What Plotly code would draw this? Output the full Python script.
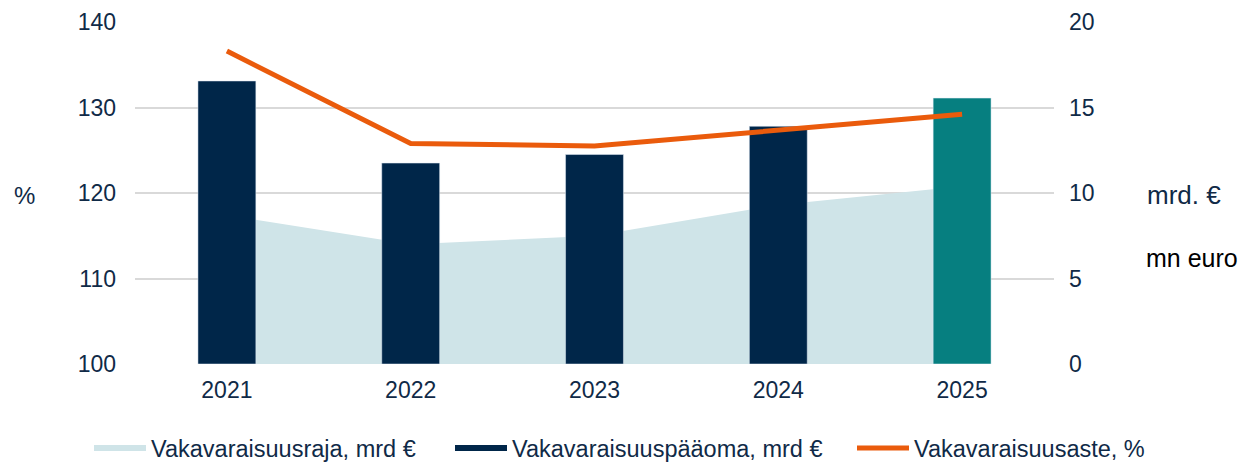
import plotly.graph_objects as go

years = ["2021", "2022", "2023", "2024", "2025"]
raja = [8.7, 7.0, 7.5, 9.3, 10.4]          # Vakavaraisuusraja, mrd €
paaoma = [16.55, 11.75, 12.25, 13.9, 15.55]  # Vakavaraisuuspääoma, mrd €
aste = [136.6, 125.8, 125.5, 127.4, 129.2]   # Vakavaraisuusaste, %

NAVY = "#002649"
TEAL = "#067F80"
LIGHT = "#CFE4E8"
ORANGE = "#EA5B0C"
TXT = "#102A47"
FONT = "Liberation Sans, Arial, sans-serif"

bar_colors = [NAVY] * (len(years) - 1) + [TEAL]

fig = go.Figure()

# area sits on the base subplot so the bars (overlay) are drawn above it
fig.add_trace(go.Scatter(
    x=years, y=raja, name="Vakavaraisuusraja, mrd €",
    mode="none", fill="tozeroy", fillcolor=LIGHT, yaxis="y", legend="legend",
))
fig.add_trace(go.Bar(
    x=years, y=paaoma, name="Vakavaraisuuspääoma, mrd €",
    marker=dict(color=bar_colors), width=0.315, yaxis="y2", showlegend=False,
))
# legend entry for the bars with a wide box like the original
fig.add_trace(go.Scatter(
    x=[None], y=[None], name="Vakavaraisuuspääoma, mrd €",
    mode="none", fill="toself", fillcolor=NAVY, yaxis="y2", legend="legend2",
))
fig.add_trace(go.Scatter(
    x=years, y=aste, name="Vakavaraisuusaste, %",
    mode="lines", line=dict(color=ORANGE, width=5), yaxis="y3", legend="legend3",
))

def leg(x):
    return dict(
        orientation="h", xref="container", yref="container",
        x=x, xanchor="left", y=0.03, yanchor="middle",
        font=dict(family=FONT, size=23.5, color=TXT),
        itemwidth=52, bgcolor="rgba(0,0,0,0)",
    )

fig.update_layout(
    width=1244, height=462,
    margin=dict(l=135, r=190, t=22, b=98, autoexpand=False),
    plot_bgcolor="white", paper_bgcolor="white",
    font=dict(family=FONT, size=23, color=TXT),
    showlegend=True,
    legend=leg(89 / 1244),
    legend2=leg(450 / 1244),
    legend3=leg(852 / 1244),
    xaxis=dict(
        type="category", showgrid=False, showline=False, ticks="",
        tickfont=dict(size=23, color=TXT), ticklabelstandoff=10,
    ),
    yaxis=dict(
        side="right", range=[0, 20], dtick=5, showgrid=True,
        gridcolor="#D9D9D9", gridwidth=1.5, zeroline=False,
        tickfont=dict(size=23, color=TXT), ticklabelstandoff=14,
    ),
    yaxis2=dict(
        overlaying="y", range=[0, 20], showgrid=False, zeroline=False,
        showticklabels=False, visible=False,
    ),
    yaxis3=dict(
        side="left", overlaying="y", range=[100, 140], dtick=10,
        showgrid=False, zeroline=False,
        tickfont=dict(size=23, color=TXT), ticklabelstandoff=18,
    ),
)

fig.add_annotation(text="%", xref="paper", yref="paper", x=-0.1202, y=0.494,
                   showarrow=False, font=dict(size=24, color=TXT),
                   xanchor="center", yanchor="middle")
fig.add_annotation(text="mrd. €", xref="paper", yref="paper", x=1.099, y=0.494,
                   showarrow=False, font=dict(size=26, color=TXT),
                   xanchor="left", yanchor="middle")
fig.add_annotation(text="mn euro", xref="paper", yref="paper", x=1.098, y=0.31,
                   showarrow=False, font=dict(size=25, color="#000000"),
                   xanchor="left", yanchor="middle")

fig.write_html("out.html", config={"displayModeBar": False},
               post_script="document.body.style.margin='0';")
